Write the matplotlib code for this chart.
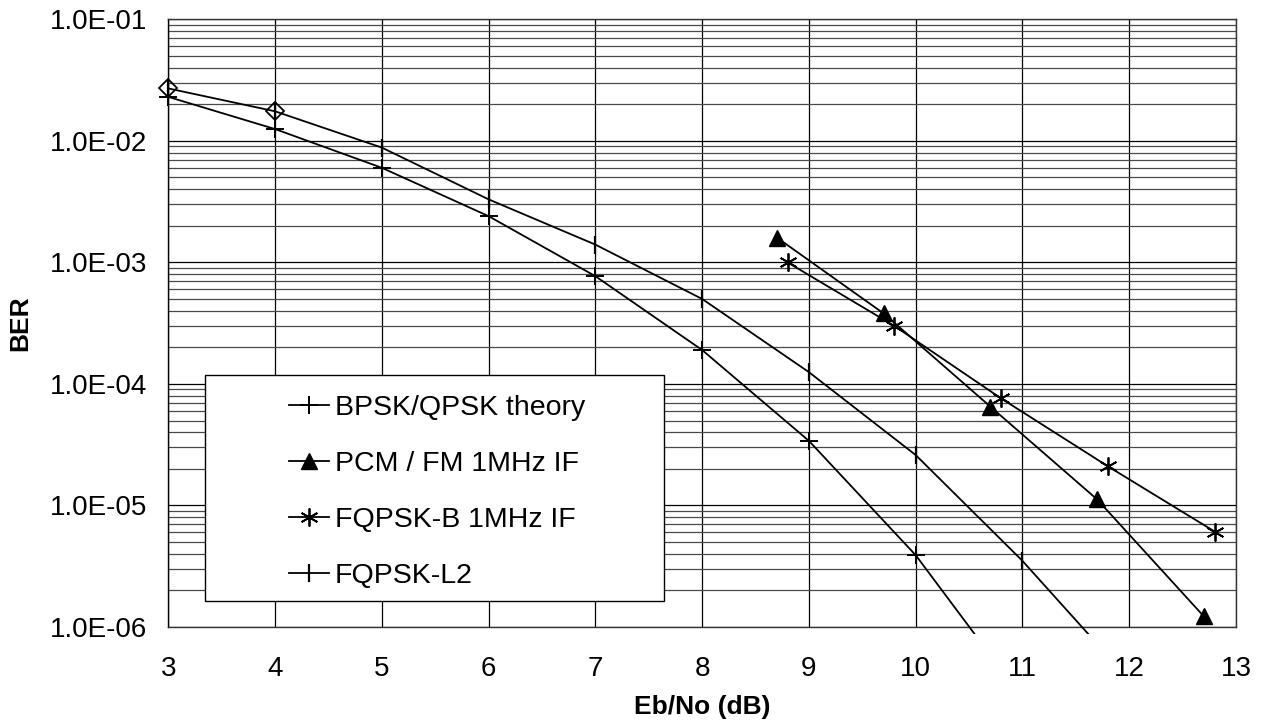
import numpy as np
import matplotlib
matplotlib.use("Agg")
import matplotlib.pyplot as plt
from matplotlib.ticker import FixedLocator, FuncFormatter, NullFormatter
from matplotlib.patches import Rectangle

plt.rcParams["font.family"] = ["Liberation Sans", "DejaVu Sans"]

# data
x_bpsk = [3, 4, 5, 6, 7, 8, 9, 10, 11]
ber_bpsk = [2.3e-2, 1.25e-2, 6.0e-3, 2.4e-3, 7.7e-4, 1.9e-4, 3.4e-5, 3.9e-6, 2.6e-7]

x_pcm = [8.7, 9.7, 10.7, 11.7, 12.7]
ber_pcm = [1.6e-3, 3.8e-4, 6.5e-5, 1.12e-5, 1.22e-6]

x_fqb = [8.8, 9.8, 10.8, 11.8, 12.8]
ber_fqb = [1.0e-3, 3.0e-4, 7.6e-5, 2.1e-5, 6.1e-6]

x_l2 = [3, 4, 5, 6, 7, 8, 9, 10, 11, 12]
ber_l2 = [2.7e-2, 1.75e-2, 8.8e-3, 3.3e-3, 1.4e-3, 5.0e-4, 1.25e-4, 2.6e-5, 3.5e-6, 3.7e-7]

# first two L2 points carry a diamond marker as well
x_diamond = [3, 4]
ber_diamond = [2.7e-2, 1.75e-2]

labels = ["BPSK/QPSK theory", "PCM / FM 1MHz IF", "FQPSK-B 1MHz IF", "FQPSK-L2"]
x_ticks = list(range(3, 14))
decades = [1e-6, 1e-5, 1e-4, 1e-3, 1e-2, 1e-1]


def sci_label(v, pos):
    exp = int(round(np.log10(v)))
    return "1.0E-%02d" % (-exp)


fig = plt.figure(figsize=(12.63, 7.24), dpi=100)
ax = fig.add_axes([0.1333, 0.134, 0.8453, 0.8393])

# lines may run a little past the plot frame, like the original
clip = Rectangle((-0.02, -0.012), 1.04, 1.03, transform=ax.transAxes, fill=False, visible=False)
ax.add_patch(clip)

lw = 1.3
lines = []
lines += ax.plot(x_bpsk, ber_bpsk, color="k", lw=lw, marker="+", ms=13, mew=1.4, label=labels[0], zorder=3)
lines += ax.plot(x_pcm, ber_pcm, color="k", lw=lw, marker="^", ms=11, mfc="k", label=labels[1], zorder=3)
lines += ax.plot(x_fqb, ber_fqb, color="k", lw=lw, marker=(6, 2, 0), ms=13, mew=1.3, label=labels[2], zorder=3)
lines += ax.plot(x_l2, ber_l2, color="k", lw=lw, marker="|", ms=13, mew=1.6, label=labels[3], zorder=3)
lines += ax.plot(x_diamond, ber_diamond, ls="none", marker="D", ms=9, mfc="none", mec="k", mew=1.3, zorder=4)
for ln in lines:
    ln.set_clip_path(clip)

ax.set_yscale("log")
ax.set_xlim(3, 13)
ax.set_ylim(1e-6, 1e-1)

ax.xaxis.set_major_locator(FixedLocator(x_ticks))
ax.yaxis.set_major_locator(FixedLocator(decades))
minors = [m * d for d in decades[:-1] for m in range(2, 10)]
ax.yaxis.set_minor_locator(FixedLocator(minors))
ax.yaxis.set_major_formatter(FuncFormatter(sci_label))
ax.yaxis.set_minor_formatter(NullFormatter())

ax.grid(True, which="major", axis="both", color="k", lw=0.9, zorder=1)
ax.grid(True, which="minor", axis="y", color="#4a4a4a", lw=0.9, zorder=1)
ax.set_axisbelow(True)

ax.tick_params(axis="both", which="both", length=0, labelsize=20)
ax.tick_params(axis="x", pad=21)
ax.tick_params(axis="y", pad=15)

for s in ax.spines.values():
    s.set_linewidth(1.0)
    s.set_color("#333333")
ax.spines["left"].set_color("k")

ax.set_xlabel("Eb/No (dB)", fontsize=19, fontweight="bold", labelpad=9)
ax.set_ylabel("BER", fontsize=19, fontweight="bold", labelpad=13)

# legend box
box = Rectangle((0.0344, 0.0428), 0.4299, 0.3719, transform=ax.transAxes,
                facecolor="white", edgecolor="k", lw=1.0, zorder=5)
ax.add_patch(box)
leg = ax.legend(loc="upper left", bbox_to_anchor=(0.1134, 0.3815), frameon=False,
                fontsize=20.5, handlelength=1.4, handletextpad=0.2,
                labelspacing=1.05, borderpad=0.0, borderaxespad=0.0)
leg.set_zorder(6)

fig.savefig("out.png", dpi=100)
